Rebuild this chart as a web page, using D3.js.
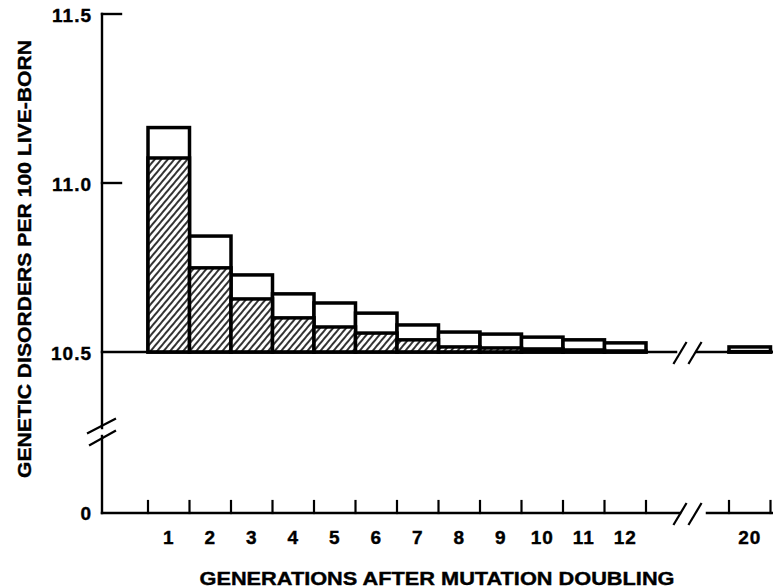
<!DOCTYPE html>
<html>
<head>
<meta charset="utf-8">
<script src="https://cdn.jsdelivr.net/npm/d3@7"></script>
<style>
body { margin: 0; background: #fff; }
svg { display: block; font-family: "Liberation Sans", Arial, sans-serif; font-weight: bold; }
svg text { stroke: black; stroke-width: 0.4px; }
</style>
</head>
<body>
<div id="chart"></div>
<script>
// generations after the mutation rate doubles (axis is broken between 12 and 20)
const generations = [1, 2, 3, 4, 5, 6, 7, 8, 9, 10, 11, 12, 20];
// total disorders per 100 live-born (top of the open bar)
const totalRate = [11.164, 10.843, 10.728, 10.672, 10.645, 10.615, 10.58, 10.559, 10.553, 10.544, 10.536, 10.527, 10.515];
// hatched part of each bar
const hatchedRate = [11.074, 10.749, 10.657, 10.601, 10.574, 10.556, 10.536, 10.515, 10.512, 10.509, 10.506, 10.503, 10.501];
// slots along the x axis, two empty ones stand for the break
const xSlots = ["1", "2", "3", "4", "5", "6", "7", "8", "9", "10", "11", "12", "gapA", "gapB", "20"];
const yTicks = [11.5, 11.0, 10.5];
const yTickLabels = ["11.5", "11.0", "10.5"];
const zeroLabel = "0";
const yTitle = "GENETIC DISORDERS PER 100 LIVE-BORN";
const xTitle = "GENERATIONS AFTER MUTATION DOUBLING";

const width = 773;
const height = 588;
const axisX = 102;
const zeroY = 513;

const data = generations.map((g, i) => ({gen: String(g), total: totalRate[i], hatched: hatchedRate[i]}));

const svg = d3.select('#chart')
    .append('svg')
    .attr('width', width)
    .attr('height', height);

//hatch pattern for the lower part of the bars
const pat = svg.append('defs').append('pattern')
    .attr('id', 'hatch')
    .attr('patternUnits', 'userSpaceOnUse')
    .attr('width', 5)
    .attr('height', 5)
    .attr('patternTransform', 'rotate(40)');
pat.append('rect').attr('width', 5).attr('height', 5).attr('fill', 'white');
pat.append('line')
    .attr('x1', 1).attr('y1', 0).attr('x2', 1).attr('y2', 5)
    .attr('stroke', 'black')
    .attr('stroke-width', 1.6);

const x = d3.scaleBand()
    .domain(xSlots)
    .range([148, 770.5])
    .padding(0);
const bw = x.bandwidth();

const y = d3.scaleLinear()
    .domain([10.5, 11.5])
    .range([352, 14]);
const baseY = y(10.5);

//open bars (total)
svg.selectAll('rect.total')
    .data(data)
    .enter()
    .append('rect')
    .attr('class', 'total')
    .attr('x', d => x(d.gen))
    .attr('y', d => y(d.total))
    .attr('width', bw)
    .attr('height', d => baseY - y(d.total))
    .attr('fill', 'white')
    .attr('stroke', 'black')
    .attr('stroke-width', 3.5);

//hatched bars
svg.selectAll('rect.hatched')
    .data(data)
    .enter()
    .append('rect')
    .attr('class', 'hatched')
    .attr('x', d => x(d.gen))
    .attr('y', d => y(d.hatched))
    .attr('width', bw)
    .attr('height', d => baseY - y(d.hatched))
    .attr('fill', 'url(#hatch)')
    .attr('stroke', 'black')
    .attr('stroke-width', 3.5);

const line = (x1, y1, x2, y2, w) => svg.append('line')
    .attr('x1', x1).attr('y1', y1).attr('x2', x2).attr('y2', y2)
    .attr('stroke', 'black')
    .attr('stroke-width', w)
    .attr('stroke-linecap', 'square');

//baseline at 10.5, broken before 20
line(axisX, baseY, 676, baseY, 2.5);
line(697, baseY, width, baseY, 2.5);

//y axis with its break
line(axisX, y(11.5), axisX, 428, 2.4);
line(axisX, 436, axisX, zeroY, 2.4);
line(88, 433, 115, 419, 2.2);
line(90, 445, 115, 431, 2.2);

//y ticks and labels
yTicks.filter(t => t > 10.5).forEach(t => line(axisX, y(t), axisX + 19, y(t), 2.4));
svg.selectAll('text.ytick')
    .data(yTicks)
    .enter()
    .append('text')
    .attr('class', 'ytick')
    .text((d, i) => yTickLabels[i])
    .attr('x', 92)
    .attr('y', d => y(d) + 1)
    .attr('text-anchor', 'end')
    .attr('dominant-baseline', 'central')
    .attr('font-size', 19)
    .attr('letter-spacing', 1);
svg.append('text')
    .text(zeroLabel)
    .attr('x', 91)
    .attr('y', zeroY)
    .attr('text-anchor', 'end')
    .attr('dominant-baseline', 'central')
    .attr('font-size', 19);

//bottom axis, broken before 20
line(axisX, zeroY, 680, zeroY, 2.5);
line(707, zeroY, width, zeroY, 2.5);
const edges = [];
data.forEach(d => {
    edges.push(x(d.gen));
    edges.push(x(d.gen) + bw);
});
const tickX = Array.from(new Set(edges.map(e => Math.round(e * 10) / 10)));
tickX.forEach(e => line(e, zeroY, e, zeroY - 12, 2.2));

//break marks on the 10.5 line and the bottom axis
[baseY, zeroY].forEach(yy => {
    line(674, yy + 11, 686, yy - 9, 2.2);
    line(689, yy + 11, 701, yy - 9, 2.2);
});

//x tick labels
svg.selectAll('text.xtick')
    .data(data)
    .enter()
    .append('text')
    .attr('class', 'xtick')
    .text(d => d.gen)
    .attr('x', d => x(d.gen) + bw / 2)
    .attr('y', 544)
    .attr('text-anchor', 'middle')
    .attr('font-size', 19)
    .attr('letter-spacing', 1);

//axis titles
svg.append('text')
    .text(yTitle)
    .attr('transform', 'translate(31,259) rotate(-90)')
    .attr('text-anchor', 'middle')
    .attr('font-size', 19)
    .attr('textLength', 438)
    .attr('lengthAdjust', 'spacingAndGlyphs');
svg.append('text')
    .text(xTitle)
    .attr('x', 437)
    .attr('y', 585)
    .attr('text-anchor', 'middle')
    .attr('font-size', 19)
    .attr('textLength', 475)
    .attr('lengthAdjust', 'spacingAndGlyphs');
</script>
</body>
</html>
